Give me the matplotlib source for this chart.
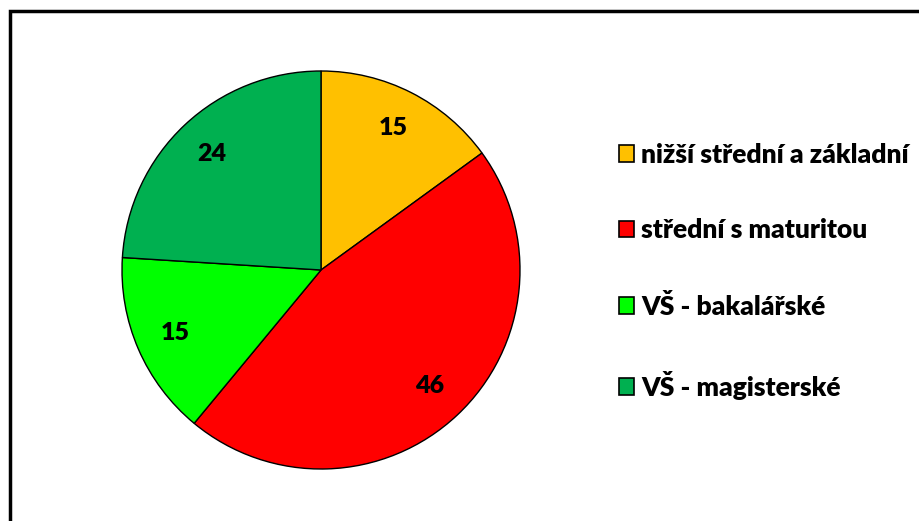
import matplotlib
matplotlib.use("Agg")
import matplotlib.pyplot as plt
from matplotlib.patches import Rectangle, Patch

categories = ["nižší střední a základní", "střední s maturitou", "VŠ - bakalářské", "VŠ - magisterské"]
values = [15, 46, 15, 24]
colors = ["#FFC000", "#FF0000", "#00FF00", "#00B050"]

W, H = 919, 521
fig = plt.figure(figsize=(W / 100, H / 100), dpi=100)
plt.rcParams['font.family'] = ['Lato', 'DejaVu Sans']

# outer frame (left/top visible, right/bottom cut off)
fig.add_artist(Rectangle((9.5 / W, -0.05), 1.2, (H - 11) / H + 0.05, transform=fig.transFigure,
                         fill=False, edgecolor="black", linewidth=2.5))

cx, cy, r = 321, 270, 199
ax = fig.add_axes([(cx - r) / W, (H - cy - r) / H, 2 * r / W, 2 * r / H])
wedges, texts, autotexts = ax.pie(values, colors=colors, startangle=90, counterclock=False,
                                  radius=1, autopct=lambda p: f"{p:.0f}", pctdistance=0.8,
                                  wedgeprops=dict(edgecolor="black", linewidth=1.0))
for t in autotexts:
    t.set_fontsize(18)
    t.set_fontweight("heavy")
    t.set_color("black")
ax.set_xlim(-1, 1)
ax.set_ylim(-1, 1)
ax.set_aspect("equal")
ax.axis("off")

handles = [Patch(facecolor=c, edgecolor="black", linewidth=1.2) for c in colors]
leg = fig.legend(handles, categories, loc="upper left", bbox_to_anchor=(608 / W, 1 - 132 / H),
                 frameon=False, handlelength=0.6, handleheight=0.6, handletextpad=0.25,
                 borderaxespad=0, labelspacing=1.96, prop=dict(size=19, weight="heavy"))

fig.savefig("out.png", dpi=100)
